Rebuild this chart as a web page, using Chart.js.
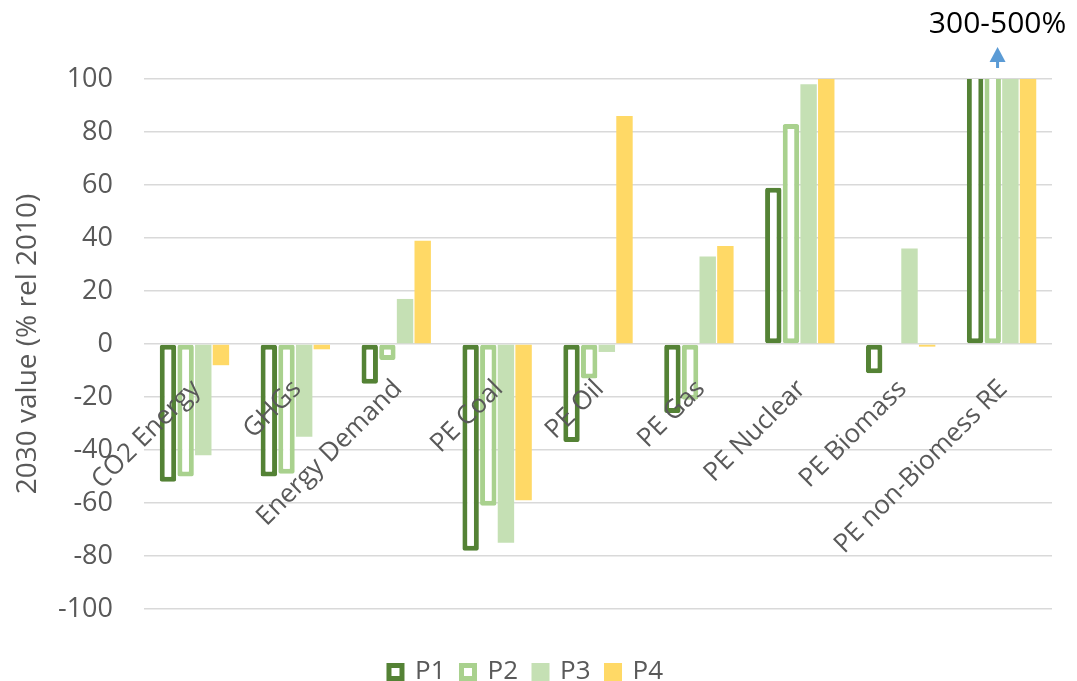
<!DOCTYPE html>
<html>
<head>
<meta charset="utf-8">
<script src="https://cdn.jsdelivr.net/npm/chart.js@4"></script>
<style>
  html, body { margin: 0; padding: 0; background: #fff; overflow: hidden; }
  #wrap { width: 1077px; height: 695px; position: relative; }
</style>
</head>
<body>
<div id="wrap"><canvas id="chart"></canvas></div>
<script>
// categories + scenario values (% change 2030 vs 2010)
const categories = ['CO2 Energy', 'GHGs', 'Energy Demand', 'PE Coal', 'PE Oil', 'PE Gas', 'PE Nuclear', 'PE Biomass', 'PE non-Biomess RE'];
const p1 = [-52, -50, -15, -78, -37, -26, 59, -11, 400];
const p2 = [-50, -49, -6, -61, -13, -21, 83, null, 400];
const p3 = [-42, -35, 17, -75, -3, 33, 98, 36, 400];
const p4 = [-8, -2, 39, -59, 86, 37, 100, -1, 400];
const yMin = -100, yMax = 100, yStep = 20;
const offScaleNote = '300-500%';

const textGrey = '#595959';
const font = 'Open Sans';

// labels sit under the zero line, like excel does it
const categoryLabels = {
  id: 'categoryLabels',
  afterDatasetsDraw(chart) {
    const {ctx, scales: {x, y}} = chart;
    const zeroY = y.getPixelForValue(0);
    ctx.save();
    ctx.font = '26px ' + font;
    ctx.fillStyle = textGrey;
    ctx.textAlign = 'right';
    ctx.textBaseline = 'alphabetic';
    categories.forEach((cat, i) => {
      ctx.save();
      ctx.translate(x.getPixelForValue(i) + 7, zeroY + 46);
      ctx.rotate(-Math.PI / 4);
      ctx.fillText(cat, 0, 0);
      ctx.restore();
    });

    // note + arrow for the off-scale RE bars
    const ax = x.getPixelForValue(categories.length - 1) - 4;
    ctx.fillStyle = '#000';
    ctx.textAlign = 'center';
    ctx.font = '30px ' + font;
    ctx.fillText(offScaleNote, ax, 33);
    ctx.fillStyle = '#5B9BD5';
    ctx.beginPath();
    ctx.moveTo(ax, 47);
    ctx.lineTo(ax + 8, 62);
    ctx.lineTo(ax - 8, 62);
    ctx.closePath();
    ctx.fill();
    ctx.fillRect(ax - 1.5, 61, 3, 7);
    ctx.restore();
  }
};

const chart = new Chart(document.getElementById('chart'), {
  type: 'bar',
  data: {
    labels: categories,
    datasets: [
      { label: 'P1', data: p1, backgroundColor: '#ffffff', borderColor: '#548235', borderWidth: 5, borderRadius: 2, borderSkipped: false, clip: 0 },
      { label: 'P2', data: p2, backgroundColor: '#ffffff', borderColor: '#A9D18E', borderWidth: 5, borderRadius: 2, borderSkipped: false, clip: 0 },
      { label: 'P3', data: p3, backgroundColor: '#C5E0B4', borderWidth: 0, clip: 0 },
      { label: 'P4', data: p4, backgroundColor: '#FFD966', borderWidth: 0, clip: 0 }
    ]
  },
  options: {
    responsive: true,
    maintainAspectRatio: false,
    animation: false,
    layout: { padding: { left: 0, right: 25, top: 79, bottom: 0 } },
    datasets: { bar: { categoryPercentage: 0.7, barPercentage: 0.93 } },
    scales: {
      x: {
        grid: { display: false },
        border: { display: false },
        ticks: { display: false },
        afterFit: s => { s.height = 34; }
      },
      y: {
        min: yMin,
        max: yMax,
        ticks: { stepSize: yStep, padding: 31, color: textGrey, font: { family: font, size: 27 } },
        grid: { color: '#D9D9D9', lineWidth: 1.5, drawTicks: false },
        border: { display: false },
        title: {
          display: true,
          text: '2030 value (% rel 2010)',
          color: textGrey,
          font: { family: font, size: 28 },
          padding: { top: 11, bottom: 0 }
        },
        afterFit: s => { s.width = 144; }
      }
    },
    plugins: {
      tooltip: { enabled: false },
      legend: {
        position: 'bottom',
        labels: {
          color: textGrey,
          font: { family: font, size: 26 },
          boxWidth: 13,
          boxHeight: 13,
          padding: 16,
          generateLabels(chart) {
            return Chart.defaults.plugins.legend.labels.generateLabels(chart).map(item => {
              if (!item.lineWidth) {
                item.lineWidth = 5;
                item.strokeStyle = item.fillStyle;
              }
              return item;
            });
          }
        }
      }
    }
  },
  plugins: [categoryLabels]
});
</script>
</body>
</html>
